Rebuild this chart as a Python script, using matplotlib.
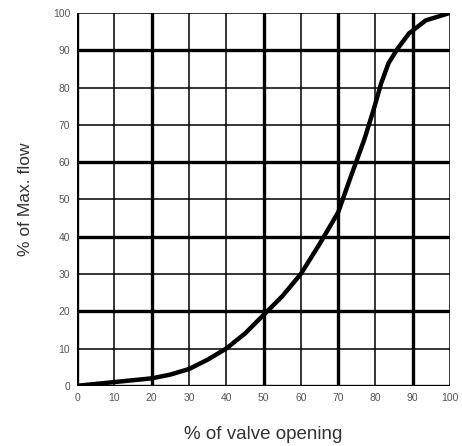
import numpy as np
import matplotlib
matplotlib.use("Agg")
from matplotlib import pyplot as plt

# valve characteristic
opening = [0, 5, 10, 15, 20, 25, 30, 35, 40, 45, 50, 55, 60, 65, 70, 73, 77,
           79.5, 81.5, 83.5, 86, 89, 93.5, 100]
flow = [0, 0.5, 1, 1.5, 2, 3, 4.5, 7, 10, 14, 19, 24, 30, 38, 46.5, 55, 66,
        74, 81, 86.5, 90.5, 94.5, 98, 100]
ticks = list(range(0, 101, 10))
thick_x = [0, 20, 50, 70, 90]
thick_y = [0, 20, 40, 60, 90]

plt.rcParams['font.family'] = ['Liberation Sans', 'DejaVu Sans']

fig = plt.figure(figsize=(4.62, 4.46), dpi=100)
ax = fig.add_axes([0.167, 0.135, 0.807, 0.836])

# grid, thin and thick lines
for t in ticks:
    lw = 2.4 if t in thick_x else 1.1
    ax.axvline(t, color='black', lw=lw, zorder=1)
for t in ticks:
    lw = 2.4 if t in thick_y else 1.1
    ax.axhline(t, color='black', lw=lw, zorder=1)

ax.plot(opening, flow, color='black', lw=3.2, solid_capstyle='round',
        solid_joinstyle='round', zorder=3)

ax.set_xlim(0, 100)
ax.set_ylim(0, 100)
ax.set_xticks(ticks)
ax.set_yticks(ticks)
ax.tick_params(length=0, labelsize=7.5, labelcolor='#555555', pad=5)
for s in ax.spines.values():
    s.set_visible(False)

ax.set_xlabel('% of valve opening', fontsize=13.5, color='#333333', labelpad=17)
ax.set_ylabel('% of Max. flow', fontsize=12.5, color='#333333', labelpad=14)

fig.savefig('out.png', dpi=100)
